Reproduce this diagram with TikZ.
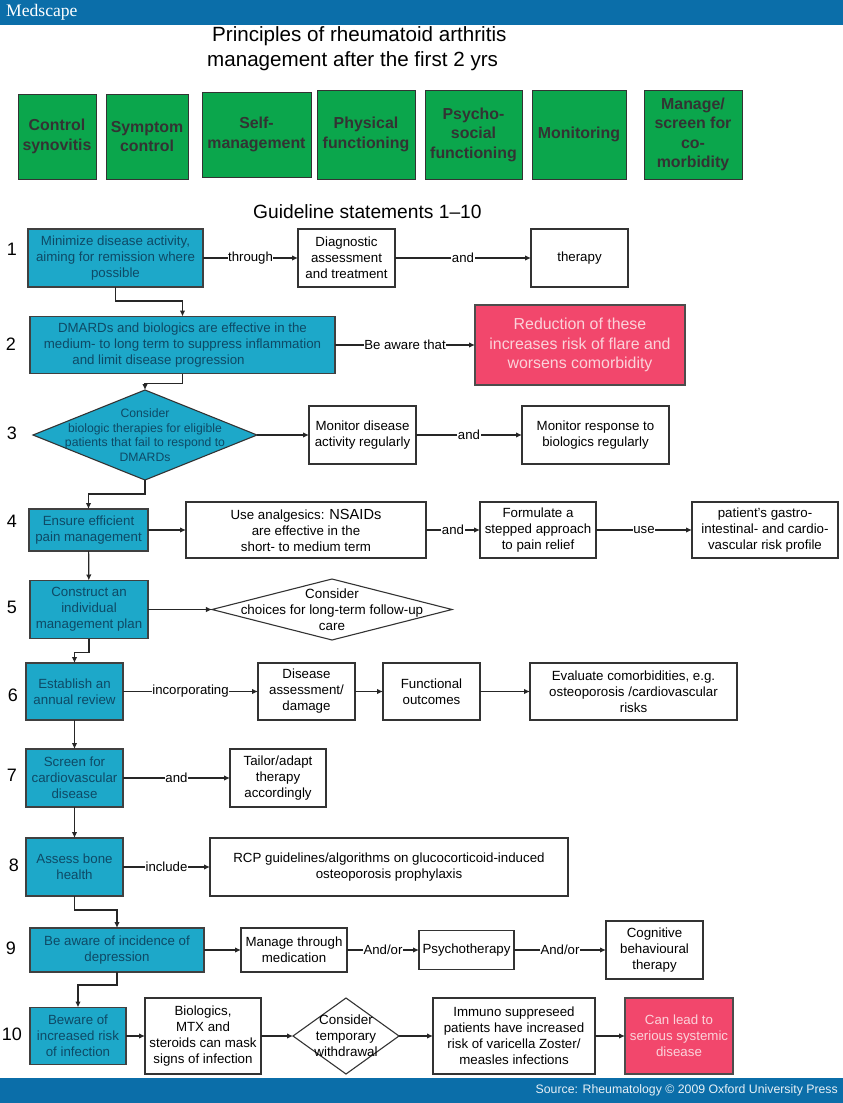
\documentclass[tikz,border=0pt]{standalone}
\usepackage{fontspec}
\setmainfont{Liberation Sans}
\newfontfamily\logofont{Liberation Serif}
\usetikzlibrary{positioning,shapes.geometric,arrows.meta}

\definecolor{barblue}{HTML}{0B6EA9}
\definecolor{aimgreen}{HTML}{0BA64C}
\definecolor{stepteal}{HTML}{1DA8C9}
\definecolor{stepink}{HTML}{0E4A66}
\definecolor{riskred}{HTML}{F2476C}
\definecolor{riskink}{HTML}{FBD3DA}

\begin{document}
\begin{tikzpicture}[x=1pt,y=-1pt]

        % Define node styles
        \tikzstyle{aim} = [rectangle, draw=black!80, line width=1pt, fill=aimgreen, inner sep=0pt, outer sep=0pt, align=center, text=black!80, font=\fontsize{15.9}{19.5}\selectfont\bfseries]
        \tikzstyle{stmt} = [rectangle, draw=black!75, line width=1.1pt, fill=stepteal, inner sep=0pt, outer sep=0pt, align=center, text=stepink, font=\fontsize{13.3}{16}\selectfont]
        \tikzstyle{action} = [rectangle, draw=black!80, line width=1.1pt, fill=white, inner sep=0pt, outer sep=0pt, align=center, font=\fontsize{13.3}{16}\selectfont]
        \tikzstyle{risk} = [rectangle, draw=black!70, line width=1.1pt, fill=riskred, inner sep=0pt, outer sep=0pt, align=center, text=riskink]
        \tikzstyle{choice} = [diamond, draw=black!80, line width=1.1pt, inner sep=0pt, outer sep=0pt]
        \tikzstyle{choicetext} = [align=center, font=\fontsize{13.4}{16}\selectfont]
        \tikzstyle{arrow} = [-{Latex[length=6pt,width=5.5pt]}, line width=1.2pt, black!85]
        \tikzstyle{linklabel} = [fill=white, inner sep=0.6pt, text=black, font=\fontsize{13.2}{14}\selectfont]
        \tikzstyle{heading} = [anchor=west, inner sep=0pt, font=\fontsize{20.6}{22}\selectfont]

        \useasboundingbox (0,0) rectangle (843,1103);

        % Header and footer bars
        \fill[barblue] (0,0) rectangle (843,25);
        \fill[barblue] (0,1078) rectangle (843,1103);
        \node[text=white, anchor=west, inner sep=0pt, font=\logofont\fontsize{17.6}{18}\selectfont] (logo) at (6,12) {Medscape};
        \node[text=white!90!barblue, anchor=east, inner sep=0pt, font=\fontsize{12.3}{14}\selectfont] (source) at (838,1090) {Source: Rheumatology © 2009 Oxford University Press};

        % Headings
        \node[heading] (title1) at (212,36) {Principles of rheumatoid arthritis};
        \node[heading] (title2) at (207,61) {management after the first 2 yrs};
        \node[heading, font=\fontsize{19.2}{22}\selectfont] (subtitle) at (253,212) {Guideline statements 1–10};

        % Principles
        \node[aim, minimum width=78pt, minimum height=85pt] (aim1) at (57,136.5) {Control\\synovitis};
        \node[aim, minimum width=82pt, minimum height=85pt] (aim2) at (147,136.5) {Symptom\\control};
        \node[aim, minimum width=109pt, minimum height=85pt] (aim3) at (256.5,134.5) {Self-\\management};
        \node[aim, minimum width=98pt, minimum height=89pt] (aim4) at (366,134.5) {Physical\\functioning};
        \node[aim, minimum width=97pt, minimum height=89pt] (aim5) at (473.5,134.5) {Psycho-\\social\\functioning};
        \node[aim, minimum width=94pt, minimum height=89pt] (aim6) at (579,134.5) {Monitoring};
        \node[aim, minimum width=98pt, minimum height=89pt] (aim7) at (693,134.5) {Manage/\\screen for\\co-\\morbidity};

        % Statement numbers
        \foreach \i/\x/\y in {1/12/249,2/11/344,3/12/433,4/12/521,5/12/607,6/13/695,7/12/775,8/14/865,9/11/948,10/12/1034}
            \node[inner sep=0pt, font=\fontsize{18}{20}\selectfont] (num\i) at (\x,\y) {\i};

        % Statement 1
        \node[stmt, minimum width=175pt, minimum height=58pt] (stmt1) at (115.5,258) {Minimize disease activity,\\aiming for remission where\\possible};
        \node[action, minimum width=97pt, minimum height=58pt] (diag) at (346.5,258) {Diagnostic\\assessment\\and treatment};
        \node[action, minimum width=97pt, minimum height=58pt] (therapy) at (579.5,258) {therapy};

        % Statement 2
        \node[stmt, minimum width=305pt, minimum height=57pt] (stmt2) at (182.5,345) {DMARDs and biologics are effective in the\\medium- to long term to suppress inflammation\\and limit disease progression\hspace*{48pt}};
        \node[risk, minimum width=210pt, minimum height=80pt, font=\fontsize{15.9}{19.5}\selectfont] (flare) at (580,345) {Reduction of these\\increases risk of flare and\\worsens comorbidity};

        % Statement 3
        \node[choice, fill=stepteal, minimum width=224pt, minimum height=90pt] (stmt3) at (145,435) {};
        \node[choicetext, text=stepink, font=\fontsize{12.2}{14.5}\selectfont] (stmt3text) at (stmt3) {Consider\\biologic therapies for eligible\\patients that fail to respond to\\DMARDs};
        \node[action, minimum width=107pt, minimum height=58pt] (moni1) at (362.5,435) {Monitor disease\\activity regularly};
        \node[action, minimum width=147pt, minimum height=58pt] (moni2) at (595.5,435) {Monitor response to\\biologics regularly};

        % Statement 4
        \node[stmt, minimum width=119pt, minimum height=42pt] (stmt4) at (88.5,530) {Ensure efficient\\pain management};
        \node[action, minimum width=240pt, minimum height=56pt] (nsaid) at (306,530) {Use analgesics: {\fontsize{14.6}{16}\selectfont NSAIDs}\\are effective in the\\short- to medium term};
        \node[action, minimum width=116pt, minimum height=56pt] (stepped) at (538,530) {Formulate a\\stepped approach\\to pain relief};
        \node[action, minimum width=146pt, minimum height=56pt] (profile) at (765,530) {patient's gastro-\\intestinal- and cardio-\\vascular risk profile};

        % Statement 5
        \node[stmt, minimum width=118pt, minimum height=58pt] (stmt5) at (89,609.5) {Construct an\\individual\\management plan};
        \node[choice, minimum width=240pt, minimum height=61pt] (follow) at (332,609.5) {};
        \node[choicetext] (followtext) at (follow) {Consider\\choices for long-term follow-up\\care};

        % Statement 6
        \node[stmt, minimum width=97pt, minimum height=57pt] (stmt6) at (74.5,691.5) {Establish an\\annual review};
        \node[action, minimum width=97pt, minimum height=57pt] (damage) at (306.5,691.5) {Disease\\assessment/\\damage};
        \node[action, minimum width=97pt, minimum height=57pt] (outcomes) at (431.5,691.5) {Functional\\outcomes};
        \node[action, minimum width=207pt, minimum height=57pt] (comorb) at (633.5,691.5) {Evaluate comorbidities, e.g.\\osteoporosis /cardiovascular\\risks};

        % Statement 7
        \node[stmt, minimum width=97pt, minimum height=58pt] (stmt7) at (74.5,778) {Screen for\\cardiovascular\\disease};
        \node[action, minimum width=96pt, minimum height=58pt] (tailor) at (278,778) {Tailor/adapt\\therapy\\accordingly};

        % Statement 8
        \node[stmt, minimum width=97pt, minimum height=58pt] (stmt8) at (74.5,867) {Assess bone\\health};
        \node[action, minimum width=358pt, minimum height=58pt] (rcp) at (389,867) {RCP guidelines/algorithms on glucocorticoid-induced\\osteoporosis prophylaxis};

        % Statement 9
        \node[stmt, minimum width=174pt, minimum height=44pt] (stmt9) at (117,950) {Be aware of incidence of\\depression};
        \node[action, minimum width=106pt, minimum height=44pt] (medic) at (294,950) {Manage through\\medication};
        \node[action, minimum width=95pt, minimum height=39pt] (psycho) at (466.5,950) {Psychotherapy};
        \node[action, minimum width=97pt, minimum height=58pt] (cogni) at (654.5,950) {Cognitive\\behavioural\\therapy};

        % Statement 10
        \node[stmt, minimum width=96pt, minimum height=57pt] (stmt10) at (78,1036) {Beware of\\increased risk\\of infection};
        \node[action, minimum width=116pt, minimum height=76pt] (mask) at (203,1036) {Biologics,\\MTX and\\steroids can mask\\signs of infection};
        \node[choice, minimum width=106pt, minimum height=76pt] (withdraw) at (346,1036) {};
        \node[choicetext] (withdrawtext) at (withdraw) {Consider\\temporary\\withdrawal};
        \node[action, minimum width=162pt, minimum height=76pt] (immuno) at (514,1036) {Immuno suppreseed\\patients have increased\\risk of varicella Zoster/\\measles infections};
        \node[risk, minimum width=108pt, minimum height=76pt, font=\fontsize{13.3}{16}\selectfont] (systemic) at (679,1036) {Can lead to\\serious systemic\\disease};

        % Arrows between statements
        \draw[arrow] (stmt1.south) -- ++(0,14) -| (stmt2.north);
        \draw[arrow] (stmt2.south) -- ++(0,10) -| (stmt3.north);
        \draw[arrow] (stmt3.south) -- ++(0,14) -| (stmt4.north);
        \draw[arrow] (stmt4) -- (stmt5);
        \draw[arrow] (stmt5.south) -- ++(0,14) -| (stmt6.north);
        \draw[arrow] (stmt6) -- (stmt7);
        \draw[arrow] (stmt7) -- (stmt8);
        \draw[arrow] (stmt8.south) -- ++(0,14) -| (stmt9.north);
        \draw[arrow] (stmt9.south) -- ++(0,13) -| (stmt10.north);

        % Arrows along the rows
        \draw[arrow] (stmt1) -- node[linklabel] (link1) {through} (diag);
        \draw[arrow] (diag) -- node[linklabel] (link2) {and} (therapy);
        \draw[arrow] (stmt2) -- node[linklabel] (link3) {Be aware that} (flare);
        \draw[arrow] (stmt3) -- (moni1);
        \draw[arrow] (moni1) -- node[linklabel] (link4) {and} (moni2);
        \draw[arrow] (stmt4) -- (nsaid);
        \draw[arrow] (nsaid) -- node[linklabel] (link5) {and} (stepped);
        \draw[arrow] (stepped) -- node[linklabel] (link6) {use} (profile);
        \draw[arrow] (stmt5) -- (follow);
        \draw[arrow] (stmt6) -- node[linklabel] (link7) {incorporating} (damage);
        \draw[arrow] (damage) -- (outcomes);
        \draw[arrow] (outcomes) -- (comorb);
        \draw[arrow] (stmt7) -- node[linklabel] (link8) {and} (tailor);
        \draw[arrow] (stmt8) -- node[linklabel] (link9) {include} (rcp);
        \draw[arrow] (stmt9) -- (medic);
        \draw[arrow] (medic) -- node[linklabel] (link10) {And/or} (psycho);
        \draw[arrow] (psycho) -- node[linklabel] (link11) {And/or} (cogni);
        \draw[arrow] (stmt10) -- (mask);
        \draw[arrow] (mask) -- (withdraw);
        \draw[arrow] (withdraw) -- (immuno);
        \draw[arrow] (immuno) -- (systemic);

    \end{tikzpicture}
\end{document}
